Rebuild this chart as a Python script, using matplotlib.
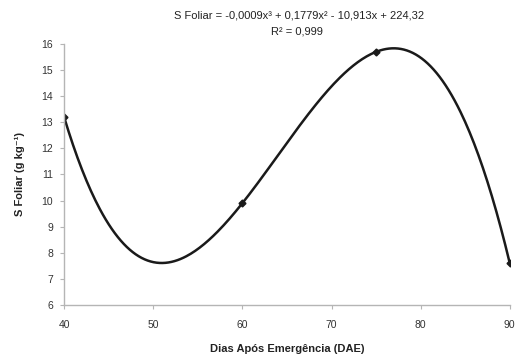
import numpy as np
import matplotlib
matplotlib.use('Agg')
import matplotlib.pyplot as plt

plt.rcParams['font.family'] = ['Liberation Sans', 'DejaVu Sans']

# dados
dae = [40, 60, 75, 90]
s_foliar = [13.2, 9.9, 15.7, 7.6]
xticks = [40, 50, 60, 70, 80, 90]
yticks = [6, 7, 8, 9, 10, 11, 12, 13, 14, 15, 16]
equacao = 'S Foliar = -0,0009x\u00b3 + 0,1779x\u00b2 - 10,913x + 224,32'
r2 = 'R\u00b2 = 0,999'

fig = plt.figure(figsize=(5.17, 3.55), dpi=100)
ax = fig.add_axes([0.124, 0.141, 0.862, 0.735])

# curva de tendencia (polinomio de 3o grau)
coef = np.polyfit(dae, s_foliar, 3)
xx = np.linspace(min(dae), max(dae), 300)
ax.plot(xx, np.polyval(coef, xx), color='#1a1a1a', lw=1.8, solid_capstyle='round')
ax.plot(dae, s_foliar, 'D', color='#1a1a1a', ms=3.5)

ax.set_xlim(40, 90)
ax.set_ylim(6, 16)
ax.set_xticks(xticks)
ax.set_yticks(yticks)

for s in ['top', 'right']:
    ax.spines[s].set_visible(False)
for s in ['left', 'bottom']:
    ax.spines[s].set_color('#b5b5b5')
    ax.spines[s].set_linewidth(1.0)
ax.tick_params(colors='#b5b5b5', labelcolor='#333333', labelsize=7.5, length=3, width=0.8)
ax.tick_params(axis='x', pad=8)
ax.tick_params(axis='y', pad=5)

ax.set_xlabel('Dias Após Emergência (DAE)', fontsize=8, fontweight='bold', color='#222222', labelpad=10)
ax.set_ylabel('S Foliar (g kg\u207b\u00b9)', fontsize=8, fontweight='bold', color='#222222', labelpad=12)

fig.text(0.578, 0.955, equacao, ha='center', va='center', fontsize=8, color='#222222')
fig.text(0.575, 0.910, r2, ha='center', va='center', fontsize=8, color='#222222')

fig.savefig('out.png', dpi=100)
